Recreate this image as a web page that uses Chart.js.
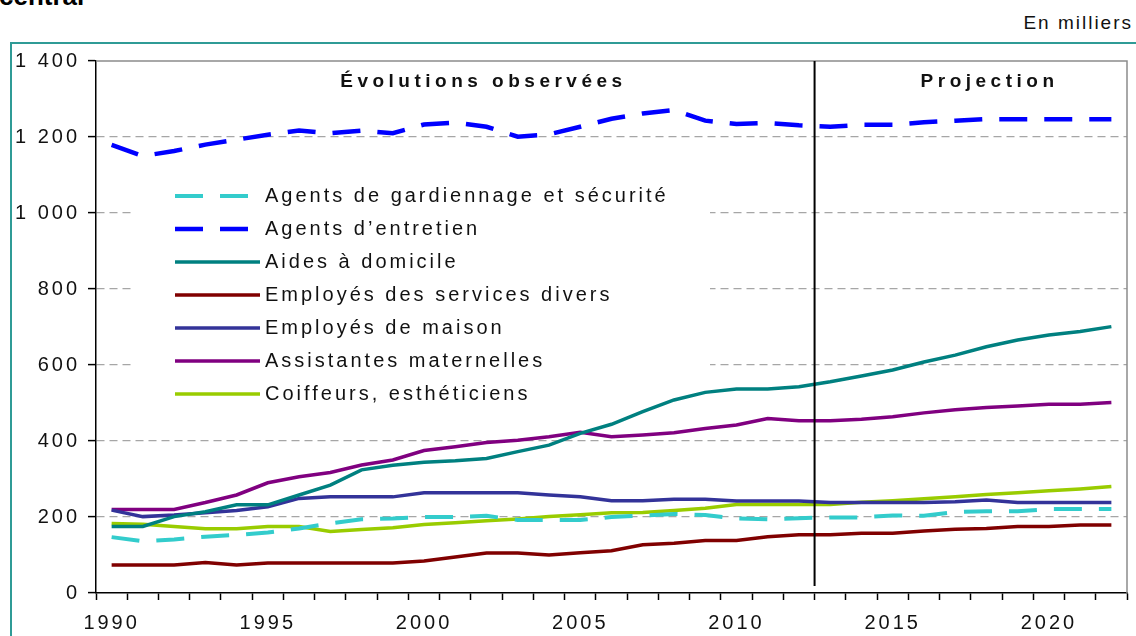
<!DOCTYPE html>
<html>
<head>
<meta charset="utf-8">
<script src="https://cdn.jsdelivr.net/npm/chart.js@4.4.1/dist/chart.umd.min.js"></script>
<style>
body{margin:0;background:#fff;overflow:hidden;font-family:"Liberation Sans",Arial,sans-serif}
#wrap{position:relative;width:1136px;height:636px;overflow:hidden}
#frame{position:absolute;left:10px;top:42px;width:1200px;height:700px;border:2px solid #2f9b96;box-sizing:border-box}
#cut{position:absolute;left:-1px;top:-17px;font-weight:bold;font-size:26px;line-height:1;color:#000}
#unit{position:absolute;right:3px;top:12px;font-size:19px;letter-spacing:2px;color:#111}
#mycanvas{position:absolute;left:0;top:0}
#legend{position:absolute;left:133px;top:179px;width:577px;height:231px}
.row{height:33px;display:flex;align-items:center;padding-left:42px}
.row span{margin-left:5px;font-size:20px;letter-spacing:3px;color:#111;white-space:nowrap}
.row svg{display:block}
</style>
</head>
<body>
<div id="wrap">
  <div id="frame"></div>
  <div id="cut">central</div>
  <div id="unit">En milliers</div>
  <canvas id="mycanvas" width="1136" height="636"></canvas>
  <div id="legend"></div>
</div>
<script>
var years = ['1990','1991','1992','1993','1994','1995','1996','1997','1998','1999',
             '2000','2001','2002','2003','2004','2005','2006','2007','2008','2009',
             '2010','2011','2012','2013','2014','2015','2016','2017','2018','2019',
             '2020','2021','2022'];

var gardiennage = [147,136,141,148,153,159,170,183,194,196,
                   200,200,203,192,192,192,200,204,208,205,
                   196,194,197,199,199,204,203,213,215,215,
                   221,221,221];
var entretien = [1179,1150,1163,1180,1193,1206,1217,1210,1217,1210,
                 1233,1238,1227,1201,1207,1227,1248,1262,1271,1243,
                 1234,1237,1231,1227,1232,1232,1239,1243,1247,1247,
                 1247,1247,1247];
var aides = [175,175,201,214,232,232,258,284,324,336,
             344,348,354,372,389,420,444,477,508,528,
             537,537,543,556,571,587,608,626,648,666,
             679,688,701];
var servicesDivers = [74,74,74,80,74,79,79,79,79,79,
                      84,95,105,105,100,106,111,127,131,138,
                      138,148,153,153,157,157,163,168,170,175,
                      175,179,179];
var maison = [218,201,205,211,217,227,249,253,253,253,
              264,264,264,264,258,253,243,243,247,247,
              242,242,242,238,238,238,238,240,245,238,
              238,238,238];
var assistantes = [220,220,220,238,258,290,306,317,337,350,
                   375,385,396,402,411,423,411,416,422,433,
                   442,459,453,453,457,464,474,482,488,492,
                   497,497,501];
var coiffeurs = [183,181,175,169,169,175,175,162,167,172,
                 180,185,190,195,201,206,211,212,217,223,
                 233,233,233,233,239,243,248,253,259,264,
                 269,274,280];

var yTicks = [0,200,400,600,800,1000,1200,1400];
var lastObserved = '2012';
var titleLeft = 'Évolutions observées';
var titleRight = 'Projection';

var FONT = '"Liberation Sans", Arial, sans-serif';

function fmt(v){
	return v>=1000 ? Math.floor(v/1000)+' '+String(v%1000).padStart(3,'0') : String(v);
}

// white legend background (hides grid, not the lines), separator, border, headings
var decor = {
	id:'decor',
	beforeDraw:function(c){
		c.ctx.letterSpacing='3px';
	},
	beforeDatasetsDraw:function(c){
		var leg=document.getElementById('legend');
		c.ctx.save();
		c.ctx.fillStyle='#fff';
		c.ctx.fillRect(leg.offsetLeft,leg.offsetTop,leg.offsetWidth,leg.offsetHeight);
		c.ctx.restore();
	},
	afterDatasetsDraw:function(c){
		var ctx=c.ctx, a=c.chartArea, x=c.scales.x, y=c.scales.y;
		ctx.save();
		ctx.strokeStyle='#8c8c8c';
		ctx.lineWidth=1.5;
		ctx.beginPath();
		ctx.moveTo(a.left,a.top);
		ctx.lineTo(a.right,a.top);
		ctx.lineTo(a.right,a.bottom);
		ctx.stroke();
		var i=years.indexOf(lastObserved);
		var sx=(x.getPixelForValue(i)+x.getPixelForValue(i+1))/2;
		ctx.strokeStyle='#000';
		ctx.lineWidth=2;
		ctx.beginPath();
		ctx.moveTo(sx,a.top);
		ctx.lineTo(sx,a.bottom-7);
		ctx.stroke();
		ctx.fillStyle='#111';
		ctx.font='bold 19px '+FONT;
		ctx.letterSpacing='4.5px';
		ctx.textAlign='center';
		ctx.textBaseline='middle';
		ctx.fillText(titleLeft,x.getPixelForValue(11.9),y.getPixelForValue(1345));
		ctx.fillText(titleRight,x.getPixelForValue(28.1),y.getPixelForValue(1345));
		ctx.restore();
		ctx.letterSpacing='3px';
	}
};

var chartdata={
	labels:years,
	datasets:[
	{label:'Agents de gardiennage et sécurité',data:gardiennage,borderColor:'#33cccc',borderWidth:4,borderDash:[28,17]},
	{label:'Agents d\u2019entretien',data:entretien,borderColor:'#0000ff',borderWidth:4.5,borderDash:[28,17]},
	{label:'Aides à domicile',data:aides,borderColor:'#008080',borderWidth:3.5},
	{label:'Employés des services divers',data:servicesDivers,borderColor:'#800000',borderWidth:3.5},
	{label:'Employés de maison',data:maison,borderColor:'#333399',borderWidth:3.5},
	{label:'Assistantes maternelles',data:assistantes,borderColor:'#800080',borderWidth:3.5},
	{label:'Coiffeurs, esthéticiens',data:coiffeurs,borderColor:'#99cc00',borderWidth:3.5}
	]
};

var chart=new Chart(document.getElementById('mycanvas'),{
	type:'line',
	data:chartdata,
	options:{
		responsive:false,
		animation:false,
		layout:{padding:{top:61,right:9,left:0,bottom:0}},
		plugins:{legend:{display:false},tooltip:{enabled:false}},
		elements:{point:{radius:0},line:{tension:0,fill:false}},
		scales:{
			x:{
				offset:true,
				grid:{offset:true,drawOnChartArea:false,tickLength:7,tickColor:'#000',tickWidth:1.5},
				border:{color:'#000',width:1.5},
				ticks:{autoSkip:false,maxRotation:0,padding:11,color:'#111',font:{family:FONT,size:20},
					callback:function(v,i){ var yr=years[i]; return Number(yr)%5===0 ? yr : ''; }},
				afterFit:function(s){ s.height=43; }
			},
			y:{
				min:yTicks[0],max:yTicks[yTicks.length-1],
				afterBuildTicks:function(s){ s.ticks=yTicks.map(function(v){return {value:v};}); },
				grid:{tickLength:8,tickColor:'#000',tickWidth:1.5,lineWidth:1.2,
					color:function(c){ var v=c.tick&&c.tick.value; return (v===0||v===1400)?'rgba(0,0,0,0)':'#a6a6a6'; }},
				border:{color:'#000',width:1.5,dash:[8,5]},
				ticks:{padding:8,color:'#111',font:{family:FONT,size:20},callback:function(v){return fmt(v);}},
				afterFit:function(s){ s.width=96; }
			}
		}
	},
	plugins:[decor]
});

// legend rows built from the datasets
var leg=document.getElementById('legend');
chart.data.datasets.forEach(function(ds){
	var row=document.createElement('div');
	row.className='row';
	var dash=ds.borderDash ? ' stroke-dasharray="'+ds.borderDash.join(',')+'"' : '';
	row.innerHTML='<svg width="85" height="8"><line x1="0" y1="4" x2="85" y2="4" stroke="'+ds.borderColor+'" stroke-width="'+ds.borderWidth+'"'+dash+' stroke-linecap="'+(ds.borderDash?'butt':'round')+'"/></svg><span>'+ds.label+'</span>';
	leg.appendChild(row);
});
</script>
</body>
</html>
